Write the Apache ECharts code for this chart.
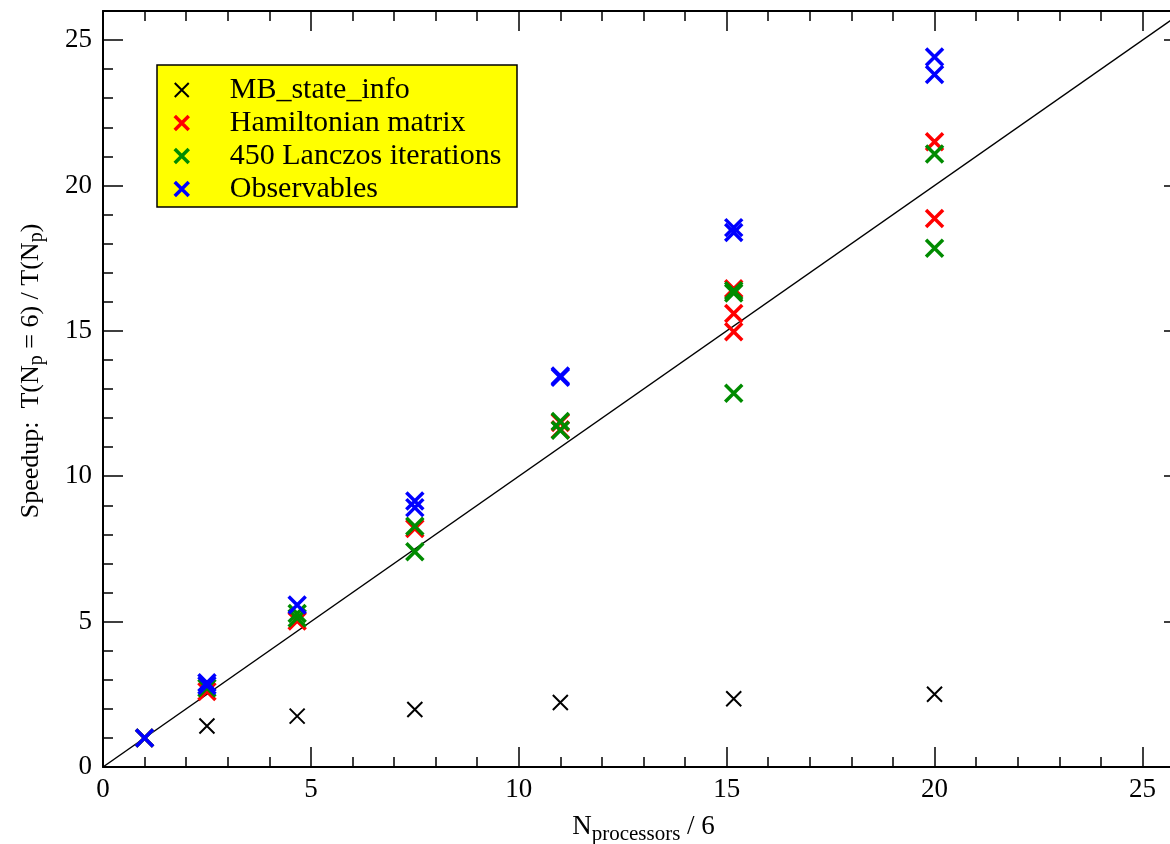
<!DOCTYPE html>
<html>
<head>
<meta charset="utf-8">
<title>Speedup</title>
<script src="https://cdn.jsdelivr.net/npm/echarts@6/dist/echarts.min.js"></script>
<style>
  html, body { margin: 0; padding: 0; background: #fff; }
  #chart { width: 1170px; height: 844px; }
</style>
</head>
<body>
<div id="chart"></div>
<script>
// N_processors / 6 for every run
var mbX = [1, 2.5, 4.67, 7.5, 11, 15.17, 20];
var mbY = [1.0, 1.41, 1.75, 1.98, 2.22, 2.35, 2.5];

var hamX = [1, 2.5, 4.67, 7.5, 11, 11, 15.17, 15.17, 15.17, 20, 20];
var hamY = [1.0, 2.6, 5.02, 8.2, 11.6, 11.85, 16.45, 15.6, 14.97, 21.5, 18.86];

var lanX = [1, 2.5, 4.67, 4.67, 7.5, 7.5, 11, 11, 15.17, 15.17, 15.17, 20, 20];
var lanY = [1.0, 2.72, 5.12, 5.28, 8.28, 7.4, 11.58, 11.88, 16.3, 16.38, 12.85, 21.08, 17.84];

var obsX = [1, 2.5, 2.5, 4.67, 7.5, 7.5, 11, 11, 15.17, 15.17, 20, 20];
var obsY = [1.0, 2.8, 2.9, 5.57, 8.92, 9.15, 13.4, 13.45, 18.38, 18.55, 24.42, 23.82];

// ideal speedup y = x
var idealX = [0, 26];
var idealY = [0, 26];

var seriesNames = ['MB_state_info', 'Hamiltonian matrix', '450 Lanczos iterations', 'Observables'];
var seriesColors = ['#000000', '#ff0000', '#008b00', '#0000ff'];
var crossWidths = [2, 3.5, 3.5, 3.5];
var crossSizes = [15, 17, 17, 17];

var font = "'Liberation Serif', 'Times New Roman', serif";
var cross = 'path://M0,0L10,10M10,0L0,10';

function pairs(xs, ys) {
  var out = [];
  for (var i = 0; i < xs.length; i++) {
    out.push([xs[i], ys[i]]);
  }
  return out;
}

function scatter(idx, xs, ys) {
  return {
    name: seriesNames[idx],
    type: 'scatter',
    data: pairs(xs, ys),
    symbol: cross,
    symbolSize: crossSizes[idx],
    itemStyle: {
      color: seriesColors[idx],
      borderColor: seriesColors[idx],
      borderWidth: crossWidths[idx],
      opacity: 1
    },
    emphasis: { disabled: true },
    z: 3 + idx
  };
}

// major (every 5) and minor (every 1) ticks, pointing inward, all four sides
function xAx(pos, step, len, withLabel) {
  return {
    type: 'value', position: pos, min: 0, max: 26, interval: step,
    axisLine: { show: step === 5, onZero: false, lineStyle: { color: '#000', width: 2 } },
    axisTick: { show: true, inside: true, length: len, lineStyle: { color: '#000', width: 1.5 } },
    axisLabel: {
      show: withLabel, showMaxLabel: false, margin: 9,
      color: '#000', fontSize: 27, fontFamily: font
    },
    splitLine: { show: false }
  };
}

function yAx(pos, step, len, withLabel) {
  return {
    type: 'value', position: pos, min: 0, max: 26, interval: step,
    axisLine: { show: step === 5, onZero: false, lineStyle: { color: '#000', width: 2 } },
    axisTick: { show: true, inside: true, length: len, lineStyle: { color: '#000', width: 1.5 } },
    axisLabel: {
      show: withLabel, showMaxLabel: false, margin: 11,
      color: '#000', fontSize: 27, fontFamily: font
    },
    splitLine: { show: false }
  };
}

var xAxes = [xAx('bottom', 5, 20, true), xAx('bottom', 1, 10, false), xAx('top', 5, 20, false), xAx('top', 1, 10, false)];
var yAxes = [yAx('left', 5, 20, true), yAx('left', 1, 10, false), yAx('right', 5, 20, false), yAx('right', 1, 10, false)];

xAxes[0].name = '{n|N}{s|processors}{n| / 6}';
xAxes[0].nameLocation = 'middle';
xAxes[0].nameGap = 41;
xAxes[0].nameTextStyle = {
  fontFamily: font, color: '#000',
  rich: {
    n: { fontSize: 27, fontFamily: font, color: '#000' },
    s: { fontSize: 21, fontFamily: font, color: '#000', verticalAlign: 'bottom', padding: [16, 0, 0, 0] }
  }
};

yAxes[0].name = '{n|Speedup:  T(N}{s|p}{n| = 6) / T(N}{s|p}{n|)}';
yAxes[0].nameLocation = 'middle';
yAxes[0].nameRotate = 90;
yAxes[0].nameGap = 56;
yAxes[0].nameTextStyle = {
  fontFamily: font, color: '#000', padding: [0, 0, 0, 36],
  rich: {
    n: { fontSize: 26, fontFamily: font, color: '#000' },
    s: { fontSize: 20, fontFamily: font, color: '#000', verticalAlign: 'bottom', padding: [12, 0, 0, 0] }
  }
};

var legendItems = [];
for (var i = 0; i < seriesNames.length; i++) {
  legendItems.push({
    name: seriesNames[i],
    itemStyle: { color: seriesColors[i], borderColor: seriesColors[i], borderWidth: crossWidths[i] }
  });
}

var chart = echarts.init(document.getElementById('chart'), null, { renderer: 'canvas' });

var option = {
  backgroundColor: '#fff',
  animation: false,
  // plot runs to x = 26, a little past the right edge of the picture
  grid: { left: 103, top: 11, width: 1081, height: 756, containLabel: false, outerBoundsMode: 'none' },
  xAxis: xAxes,
  yAxis: yAxes,
  graphic: [{
    type: 'rect',
    shape: { x: 157, y: 65, width: 360, height: 142 },
    style: { fill: '#ffff00', stroke: '#000', lineWidth: 1.5 },
    z: 1
  }],
  legend: {
    data: legendItems,
    orient: 'vertical',
    left: 173,
    top: 75,
    padding: 0,
    itemWidth: 32,
    itemHeight: 14,
    itemGap: 3,
    z: 10,
    textStyle: { fontSize: 30, fontFamily: font, color: '#000', padding: [0, 0, 0, 27] }
  },
  series: [
    {
      name: 'ideal',
      type: 'line',
      data: pairs(idealX, idealY),
      showSymbol: false,
      symbol: 'none',
      lineStyle: { color: '#000', width: 1.5 },
      silent: true,
      z: 2
    },
    scatter(0, mbX, mbY),
    scatter(1, hamX, hamY),
    scatter(2, lanX, lanY),
    scatter(3, obsX, obsY)
  ]
};

chart.setOption(option);
</script>
</body>
</html>
